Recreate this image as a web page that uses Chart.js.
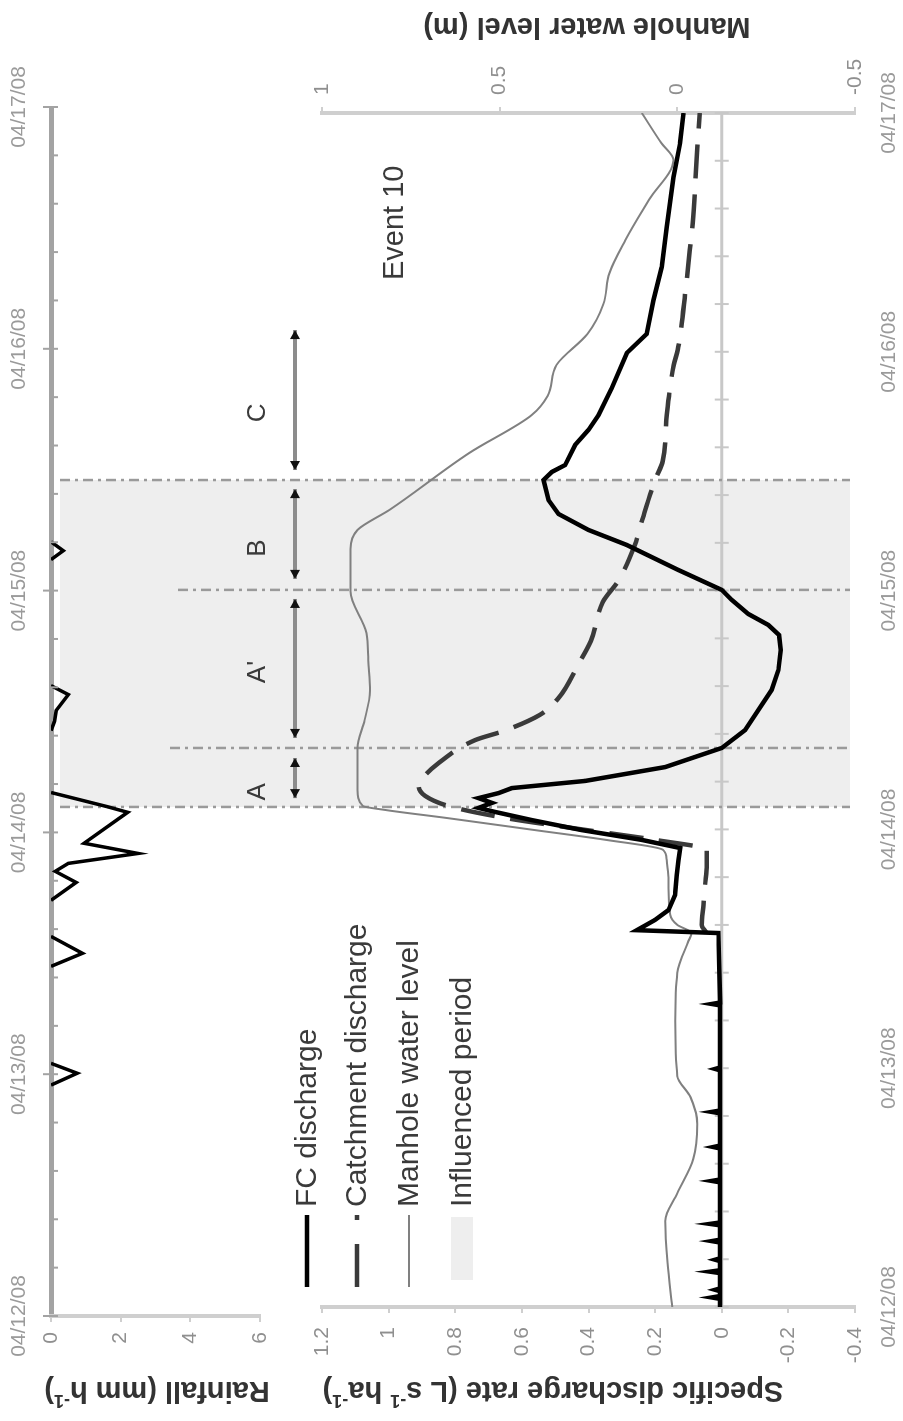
<!DOCTYPE html>
<html><head><meta charset="utf-8">
<script src="https://cdn.jsdelivr.net/npm/chart.js@4.4.1/dist/chart.umd.min.js"></script>
<style>
html,body{margin:0;padding:0;background:#fff;overflow:hidden;width:903px;height:1421px;}
#wrap{position:absolute;left:0;top:0;width:1421px;height:903px;transform-origin:0 0;transform:translate(0,1421px) rotate(-90deg);}
#wrap canvas{position:absolute;left:0;top:0;}
</style></head>
<body>
<div id="wrap"><canvas id="dis" width="1421" height="903"></canvas><canvas id="rain" width="1421" height="903"></canvas></div>
<script>
// ---------- data (time in days since 04/12/08 00:00) ----------
const dateLabels = ['04/12/08','04/13/08','04/14/08','04/15/08','04/16/08','04/17/08'];

const rainTime  = [0, 0.955, 1.004, 1.045, 1.446, 1.500, 1.570, 1.719, 1.793, 1.839, 1.872, 1.913, 1.955, 2.083, 2.107, 2.165, 2.421, 2.459, 2.504, 2.570, 2.607, 3.128, 3.165, 3.202, 5.0];
const rainValue = [0, 0, 0.75, 0, 0, 0.9, 0, 0, 0.72, 0.12, 0.5, 2.5, 0.95, 2.2, 1.6, 0, 0, 0.1, 0.15, 0.5, 0, 0, 0.35, 0, 0];

const fcTime  = [0, 0.034, 0.04, 0.046, 0.066, 0.072, 0.078, 0.142, 0.148, 0.154, 0.192, 0.198, 0.204, 0.27, 0.276, 0.282, 0.342, 0.348, 0.354, 0.522, 0.528, 0.534, 0.664, 0.67, 0.676, 0.811, 0.817, 0.823, 0.991, 0.997, 1.003, 1.263, 1.269, 1.275, 1.566,
  1.578, 1.621, 1.662, 1.725, 1.809, 1.872, 1.922, 1.956, 1.997, 2.039, 2.073, 2.090, 2.111, 2.131, 2.152, 2.173, 2.203, 2.261, 2.341, 2.416, 2.500, 2.584, 2.667, 2.751, 2.814, 2.856, 2.902, 2.961, 3.003, 3.086, 3.191, 3.254, 3.321, 3.379, 3.463, 3.497, 3.526, 3.610, 3.673, 3.735, 3.848, 3.995, 4.075, 4.217, 4.355, 4.523, 4.732, 4.874, 5.0];
const fcValue = [0.005, 0.005, 0.03, 0.005, 0.005, 0.02, 0.005, 0.005, 0.035, 0.005, 0.005, 0.02, 0.005, 0.005, 0.03, 0.005, 0.005, 0.035, 0.005, 0.005, 0.03, 0.005, 0.005, 0.025, 0.005, 0.005, 0.03, 0.005, 0.005, 0.02, 0.005, 0.005, 0.03, 0.005, 0.01,
  0.255, 0.2, 0.16, 0.14, 0.135, 0.13, 0.125, 0.24, 0.42, 0.57, 0.68, 0.73, 0.69, 0.73, 0.67, 0.63, 0.41, 0.17, 0.0, -0.07, -0.11, -0.15, -0.17, -0.177, -0.172, -0.14, -0.08, -0.03, 0.0, 0.13, 0.285, 0.40, 0.49, 0.52, 0.535, 0.51, 0.47, 0.44, 0.40, 0.37, 0.33, 0.285, 0.225, 0.205, 0.18, 0.165, 0.145, 0.125, 0.115];

const catTime  = [1.566, 1.600, 1.683, 1.767, 1.851, 1.914, 1.956, 2.006, 2.048, 2.098, 2.140, 2.182, 2.211, 2.278, 2.374, 2.412, 2.479, 2.550, 2.693, 2.789, 2.952, 3.044, 3.191, 3.304, 3.463, 3.543, 3.735, 3.945, 4.008, 4.267, 4.426, 4.539, 4.816, 5.0];
const catValue = [0.045, 0.06, 0.055, 0.05, 0.045, 0.045, 0.2, 0.45, 0.65, 0.82, 0.89, 0.91, 0.90, 0.85, 0.74, 0.655, 0.547, 0.49, 0.43, 0.393, 0.357, 0.309, 0.261, 0.237, 0.20, 0.177, 0.165, 0.144, 0.132, 0.108, 0.096, 0.087, 0.075, 0.066];

const mhTime  = [0, 0.188, 0.360, 0.477, 0.620, 0.766, 0.879, 0.967, 1.198, 1.399, 1.528, 1.566, 1.600, 1.642, 1.788, 1.872, 1.914, 1.956, 1.997, 2.048, 2.081, 2.098, 2.165, 2.341, 2.458, 2.580, 2.709, 2.822, 2.998, 3.174, 3.254, 3.338, 3.576, 3.735, 3.815, 3.945, 4.075, 4.200, 4.330, 4.468, 4.636, 4.803, 4.874, 5.0];
const mhValue = [0.014, 0.028, 0.034, 0.0, -0.045, -0.056, -0.037, 0.0, 0.006, 0.0, -0.03, -0.04, 0.0, 0.02, 0.025, 0.03, 0.04, 0.2, 0.4, 0.65, 0.82, 0.885, 0.9, 0.9, 0.88, 0.865, 0.87, 0.875, 0.92, 0.92, 0.90, 0.81, 0.586, 0.41, 0.365, 0.34, 0.253, 0.208, 0.191, 0.146, 0.08, 0.011, 0.045, 0.1];

const seriesNames = ['FC discharge', 'Catchment discharge', 'Manhole water level', 'Influenced period'];
const phaseNames = ['A', "A'", 'B', 'C'];
const phaseStart = [2.131, 2.383, 3.049, 3.505];
const phaseEnd   = [2.299, 2.965, 3.425, 4.091];
const phaseLabelTime = [2.157, 2.659, 3.178, 3.744];
const boundaryTime = [2.094, 2.341, 3.003, 3.463];
const influencedPeriod = [2.094, 3.463];
const eventText = 'Event 10';
const eventPos = [4.54, 0.98];

// ---------- layout / style ----------
const FONT = "'Liberation Sans', Arial, Helvetica, sans-serif";
Chart.defaults.font.family = FONT;
const L = {
  shadeTop: 60, shadeBottom: 850,
  boundaryTop: [60, 170, 178, 60],
  arrowY: 295, phaseLabelY: 258,
  legendRows: [307, 357, 409, 462], legendX0: 134, legendX1: 206, legendTextX: 214
};

function dateTick(v){
  const d = Math.round(v);
  return Math.abs(v - d) < 1e-6 ? dateLabels[d] : '';
}
function numTick(v){ return String(Math.round(v*10)/10); }
function pts(t, v){ return t.map((x,i)=>({x:x, y:v[i]})); }

function richText(ctx, runs, cx, cy, size, weight, color, rot){
  ctx.save();
  ctx.translate(cx, cy); ctx.rotate(rot);
  ctx.fillStyle = color; ctx.textBaseline = 'middle'; ctx.textAlign = 'left';
  const sup = Math.round(size*0.62);
  let total = 0;
  runs.forEach(r => { ctx.font = weight+' '+(r.sup?sup:size)+'px '+FONT; r.w = ctx.measureText(r.t).width; total += r.w; });
  let x = -total/2;
  runs.forEach(r => { ctx.font = weight+' '+(r.sup?sup:size)+'px '+FONT; ctx.fillText(r.t, x, r.sup ? -size*0.33 : 0); x += r.w; });
  ctx.restore();
}

const decorPlugin = {
  id: 'decor',
  beforeDatasetsDraw(chart){
    const {ctx, chartArea:a} = chart; const x = chart.scales.x, y = chart.scales.y;
    ctx.save();
    const x1 = x.getPixelForValue(influencedPeriod[0]), x2 = x.getPixelForValue(influencedPeriod[1]);
    ctx.fillStyle = '#eeeeee';
    ctx.fillRect(x1, L.shadeTop, x2-x1, L.shadeBottom - L.shadeTop);
    const y0 = y.getPixelForValue(0);
    ctx.strokeStyle = '#c8c8c8'; ctx.lineWidth = 3;
    ctx.beginPath(); ctx.moveTo(a.left, y0); ctx.lineTo(a.right, y0); ctx.stroke();
    ctx.lineWidth = 2;
    x.ticks.forEach(t => { const px = x.getPixelForValue(t.value); ctx.beginPath(); ctx.moveTo(px, y0-7); ctx.lineTo(px, y0+7); ctx.stroke(); });
    ctx.setLineDash([10,5,3,5]); ctx.strokeStyle = '#9a9a9a'; ctx.lineWidth = 2.5;
    boundaryTime.forEach((t,i) => { const px = x.getPixelForValue(t); ctx.beginPath(); ctx.moveTo(px, L.boundaryTop[i]); ctx.lineTo(px, L.shadeBottom); ctx.stroke(); });
    ctx.restore();
  },
  afterDraw(chart){
    const ctx = chart.ctx; const x = chart.scales.x, y = chart.scales.y;
    ctx.save();
    // phase arrows
    phaseStart.forEach((s,i) => {
      const xa = x.getPixelForValue(s), xb = x.getPixelForValue(phaseEnd[i]), yy = L.arrowY;
      ctx.strokeStyle = '#8c8c8c'; ctx.lineWidth = 4; ctx.setLineDash([]);
      ctx.beginPath(); ctx.moveTo(xa, yy); ctx.lineTo(xb, yy); ctx.stroke();
      ctx.fillStyle = '#111';
      ctx.beginPath(); ctx.moveTo(xa, yy); ctx.lineTo(xa+9, yy-5); ctx.lineTo(xa+9, yy+5); ctx.closePath(); ctx.fill();
      ctx.beginPath(); ctx.moveTo(xb, yy); ctx.lineTo(xb-9, yy-5); ctx.lineTo(xb-9, yy+5); ctx.closePath(); ctx.fill();
      ctx.fillStyle = '#3a3a3a'; ctx.font = '26px '+FONT; ctx.textAlign = 'center'; ctx.textBaseline = 'middle';
      ctx.fillText(phaseNames[i], x.getPixelForValue(phaseLabelTime[i]), L.phaseLabelY);
    });
    // event label
    ctx.fillStyle = '#3a3a3a'; ctx.font = '29px '+FONT; ctx.textAlign = 'center'; ctx.textBaseline = 'middle';
    ctx.fillText(eventText, x.getPixelForValue(eventPos[0]), y.getPixelForValue(eventPos[1]));
    // legend
    const r = L.legendRows;
    ctx.lineCap = 'butt';
    ctx.strokeStyle = '#000'; ctx.lineWidth = 4.5; ctx.setLineDash([]);
    ctx.beginPath(); ctx.moveTo(L.legendX0, r[0]); ctx.lineTo(L.legendX1, r[0]); ctx.stroke();
    ctx.strokeStyle = '#3a3a3a'; ctx.setLineDash([43,24]);
    ctx.beginPath(); ctx.moveTo(L.legendX0, r[1]); ctx.lineTo(L.legendX1, r[1]); ctx.stroke();
    ctx.setLineDash([]); ctx.strokeStyle = '#808080'; ctx.lineWidth = 2;
    ctx.beginPath(); ctx.moveTo(L.legendX0, r[2]); ctx.lineTo(L.legendX1, r[2]); ctx.stroke();
    ctx.fillStyle = '#eeeeee'; ctx.fillRect(L.legendX0+7, r[3]-11, L.legendX1-L.legendX0-9, 22);
    ctx.fillStyle = '#3a3a3a'; ctx.font = '30px '+FONT; ctx.textAlign = 'left'; ctx.textBaseline = 'middle';
    seriesNames.forEach((n,i) => ctx.fillText(n, L.legendTextX, r[i]+1));
    ctx.restore();
    // axis titles
    richText(ctx, [{t:'Rainfall (mm h'},{t:'-1',sup:true},{t:')'}], 31, 157, 29, 'bold', '#333', -Math.PI/2);
    richText(ctx, [{t:'Specific discharge rate (L s'},{t:'-1',sup:true},{t:' ha'},{t:'-1',sup:true},{t:')'}], 31, 553, 29, 'bold', '#333', -Math.PI/2);
    richText(ctx, [{t:'Manhole water level (m)'}], 1395, 587, 29, 'bold', '#333', -Math.PI/2);
  }
};

const rainTicks = {
  id: 'rainTicks',
  afterDatasetsDraw(chart){
    const {ctx, chartArea:a} = chart; const x = chart.scales.x;
    ctx.save(); ctx.strokeStyle = '#a3a3a3'; ctx.lineWidth = 2;
    x.ticks.forEach(t => {
      const px = x.getPixelForValue(t.value);
      const major = Math.abs(t.value - Math.round(t.value)) < 1e-6;
      ctx.beginPath(); ctx.moveTo(px, major ? a.top-8 : a.top); ctx.lineTo(px, a.top+7); ctx.stroke();
    });
    ctx.restore();
  }
};

new Chart(document.getElementById('dis'), {
  type: 'line',
  data: { datasets: [
    {label: seriesNames[0], data: pts(fcTime, fcValue), yAxisID:'y', borderColor:'#000', borderWidth:4.5, tension:0, pointRadius:0, fill:false, order:0},
    {label: seriesNames[1], data: pts(catTime, catValue), yAxisID:'y', borderColor:'#3a3a3a', borderWidth:4.5, borderDash:[34,16], cubicInterpolationMode:'monotone', pointRadius:0, fill:false, order:1},
    {label: seriesNames[2], data: pts(mhTime, mhValue), yAxisID:'y2', borderColor:'#808080', borderWidth:2, cubicInterpolationMode:'monotone', pointRadius:0, fill:false, order:2}
  ]},
  options: {
    responsive:false, animation:false, devicePixelRatio:1,
    layout:{padding:{top:322, left:0, right:0, bottom:0}},
    plugins:{legend:{display:false}, tooltip:{enabled:false}},
    scales:{
      x:{type:'linear', position:'bottom', min:0, max:5, afterFit(s){ s.height = 48; },
        ticks:{stepSize:0.2, autoSkip:false, maxRotation:0, minRotation:0, padding:22, color:'#9a9a9a', font:{size:21}, callback: dateTick},
        grid:{display:false, drawTicks:false}, border:{display:false}},
      y:{type:'linear', position:'left', min:-0.4, max:1.2, afterFit(s){ s.width = 114; },
        ticks:{stepSize:0.2, padding:14, color:'#8f8f8f', font:{size:21}, callback: numTick},
        grid:{drawOnChartArea:false, drawTicks:true, tickLength:6, color:'#cfcfcf', lineWidth:2}, border:{color:'#cfcfcf', width:4}},
      y2:{type:'linear', position:'right', min:-0.5, max:1, afterFit(s){ s.width = 113; },
        ticks:{stepSize:0.5, padding:12, color:'#8f8f8f', font:{size:21}, callback: numTick},
        grid:{drawOnChartArea:false, drawTicks:true, tickLength:6, color:'#cfcfcf', lineWidth:2}, border:{color:'#cfcfcf', width:4}}
    }
  },
  plugins:[decorPlugin]
});

new Chart(document.getElementById('rain'), {
  type: 'line',
  data: { datasets: [
    {label:'Rainfall', data: pts(rainTime, rainValue), borderColor:'#000', borderWidth:3.5, tension:0, pointRadius:0, fill:false,
     segment:{ borderColor: c => (c.p0.parsed.y === 0 && c.p1.parsed.y === 0) ? 'rgba(0,0,0,0)' : undefined }}
  ]},
  options: {
    responsive:false, animation:false, devicePixelRatio:1,
    layout:{padding:{top:0, left:0, right:107, bottom:643}},
    plugins:{legend:{display:false}, tooltip:{enabled:false}},
    scales:{
      x:{type:'linear', position:'top', min:0, max:5, afterFit(s){ s.height = 51; },
        ticks:{stepSize:0.2, autoSkip:false, maxRotation:0, minRotation:0, padding:19, color:'#9a9a9a', font:{size:21}, callback: dateTick},
        grid:{display:false, drawTicks:false}, border:{display:true, color:'#a3a3a3', width:5}},
      y:{type:'linear', reverse:true, min:0, max:6, afterFit(s){ s.width = 105; },
        ticks:{stepSize:2, padding:10, color:'#8f8f8f', font:{size:21}, callback: numTick},
        grid:{drawOnChartArea:false, drawTicks:true, tickLength:6, color:'#cfcfcf', lineWidth:2}, border:{color:'#cfcfcf', width:4}}
    }
  },
  plugins:[rainTicks]
});
</script>
</body></html>
